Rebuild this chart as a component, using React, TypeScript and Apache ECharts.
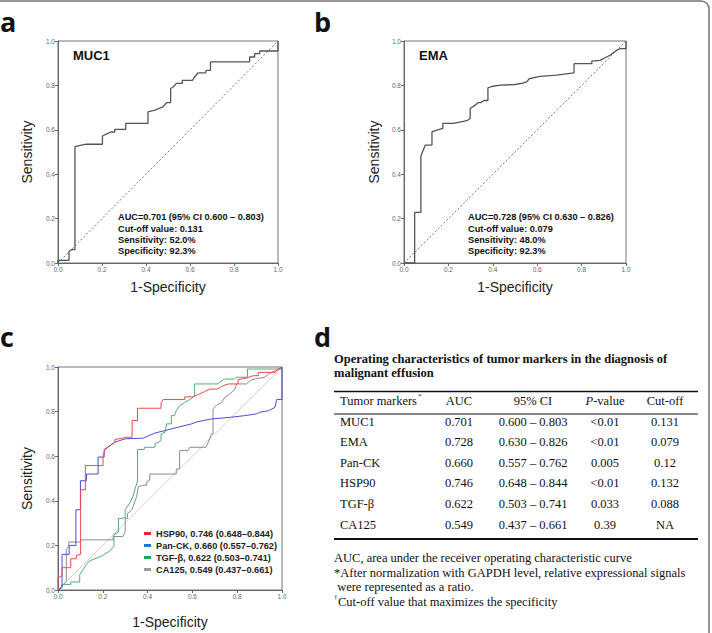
import React, { useEffect, useRef } from "react";
import * as echarts from "echarts";

// ROC curve points, [1 - specificity, sensitivity]
const muc1Roc: number[][] = [
  [0, 0], [0, 0.012], [0.05, 0.012], [0.05, 0.052], [0.061, 0.06], [0.077, 0.06], [0.077, 0.524],
  [0.106, 0.531], [0.13, 0.535], [0.202, 0.535], [0.202, 0.572], [0.227, 0.584], [0.24, 0.59],
  [0.258, 0.59], [0.258, 0.602], [0.308, 0.602], [0.308, 0.629], [0.409, 0.629], [0.409, 0.681],
  [0.44, 0.689], [0.477, 0.703], [0.493, 0.722], [0.512, 0.722], [0.512, 0.786], [0.525, 0.794],
  [0.538, 0.809], [0.565, 0.809], [0.565, 0.823], [0.611, 0.823], [0.621, 0.838], [0.636, 0.856],
  [0.67, 0.856], [0.674, 0.868], [0.693, 0.868], [0.693, 0.906], [0.871, 0.906], [0.871, 0.928],
  [0.894, 0.928], [0.894, 0.943], [0.917, 0.943], [0.917, 0.955], [1, 0.955], [1, 1],
];

const emaRoc: number[][] = [
  [0, 0], [0.048, 0], [0.048, 0.228], [0.076, 0.228], [0.076, 0.482], [0.096, 0.531], [0.126, 0.531],
  [0.126, 0.591], [0.148, 0.599], [0.175, 0.606], [0.175, 0.629], [0.223, 0.629], [0.283, 0.641],
  [0.298, 0.651], [0.298, 0.696], [0.321, 0.711], [0.333, 0.722], [0.345, 0.722], [0.36, 0.732],
  [0.378, 0.732], [0.378, 0.789], [0.395, 0.795], [0.433, 0.801], [0.5, 0.804], [0.535, 0.81],
  [0.553, 0.816], [0.565, 0.831], [0.613, 0.841], [0.688, 0.846], [0.766, 0.856], [0.766, 0.898],
  [0.846, 0.898], [0.846, 0.909], [0.883, 0.913], [0.928, 0.936], [0.958, 0.958], [0.973, 0.966],
  [1, 0.966], [1, 1],
];

const hsp90Roc: number[][] = [
  [0, 0], [0, 0.055], [0.018, 0.063], [0.018, 0.1], [0.057, 0.1], [0.057, 0.14], [0.082, 0.14],
  [0.082, 0.155], [0.101, 0.16], [0.101, 0.45], [0.122, 0.45], [0.122, 0.558], [0.201, 0.558],
  [0.201, 0.6], [0.21, 0.63], [0.254, 0.663], [0.254, 0.675], [0.31, 0.685], [0.331, 0.685],
  [0.331, 0.76], [0.355, 0.76], [0.355, 0.815], [0.46, 0.815], [0.46, 0.839], [0.47, 0.854],
  [0.566, 0.854], [0.566, 0.866], [0.6, 0.866], [0.633, 0.879], [0.655, 0.89], [0.678, 0.901],
  [0.712, 0.901], [0.73, 0.913], [0.76, 0.924], [0.804, 0.924], [0.804, 0.943], [0.84, 0.95],
  [0.872, 0.961], [0.894, 0.961], [0.894, 0.976], [0.969, 0.976], [0.982, 0.991], [1, 1],
];

const panCkRoc: number[][] = [
  [0, 0], [0.018, 0.01], [0.018, 0.16], [0.05, 0.16], [0.05, 0.2], [0.08, 0.2], [0.08, 0.36],
  [0.1, 0.36], [0.1, 0.49], [0.127, 0.49], [0.127, 0.52], [0.179, 0.52], [0.179, 0.596],
  [0.206, 0.596], [0.206, 0.63], [0.254, 0.663], [0.3, 0.678], [0.381, 0.681], [0.433, 0.704],
  [0.478, 0.715], [0.536, 0.73], [0.596, 0.745], [0.625, 0.755], [0.685, 0.767], [0.775, 0.775],
  [0.834, 0.782], [0.886, 0.79], [0.9, 0.797], [0.94, 0.804], [0.969, 0.819], [0.976, 0.854],
  [1, 0.854], [1, 1],
];

const tgfRoc: number[][] = [
  [0, 0], [0.018, 0.018], [0.018, 0.025], [0.057, 0.025], [0.057, 0.036], [0.097, 0.036],
  [0.097, 0.07], [0.112, 0.09], [0.127, 0.115], [0.14, 0.13], [0.194, 0.152], [0.231, 0.175],
  [0.25, 0.197], [0.25, 0.25], [0.27, 0.26], [0.27, 0.32], [0.3, 0.324], [0.3, 0.36], [0.32, 0.39],
  [0.335, 0.42], [0.343, 0.45], [0.355, 0.488], [0.355, 0.63], [0.385, 0.63], [0.385, 0.64],
  [0.433, 0.64], [0.433, 0.655], [0.46, 0.67], [0.46, 0.7], [0.478, 0.707], [0.485, 0.745],
  [0.506, 0.745], [0.506, 0.782], [0.52, 0.782], [0.528, 0.804], [0.543, 0.827], [0.565, 0.84],
  [0.59, 0.855], [0.61, 0.87], [0.61, 0.924], [0.715, 0.924], [0.72, 0.931], [0.743, 0.946],
  [0.788, 0.946], [0.795, 0.954], [0.846, 0.954], [0.846, 0.991], [1, 0.991], [1, 1],
];

const ca125Roc: number[][] = [
  [0, 0], [0.02, 0.02], [0.037, 0.04], [0.037, 0.18], [0.048, 0.197], [0.048, 0.215], [0.1, 0.215],
  [0.1, 0.225], [0.246, 0.225], [0.246, 0.24], [0.29, 0.24], [0.3, 0.26], [0.3, 0.32], [0.31, 0.32],
  [0.31, 0.343], [0.33, 0.36], [0.351, 0.418], [0.358, 0.463], [0.38, 0.47], [0.396, 0.47],
  [0.396, 0.485], [0.41, 0.493], [0.41, 0.52], [0.528, 0.52], [0.528, 0.543], [0.543, 0.543],
  [0.543, 0.625], [0.58, 0.625], [0.588, 0.64], [0.66, 0.64], [0.67, 0.66], [0.685, 0.7],
  [0.692, 0.7], [0.692, 0.812], [0.707, 0.827], [0.73, 0.842], [0.745, 0.864], [0.767, 0.879],
  [0.79, 0.901], [0.797, 0.924], [0.842, 0.924], [0.86, 0.94], [0.879, 0.946], [0.924, 0.954],
  [0.94, 0.969], [0.985, 0.99], [1, 1],
];

const chanceLine: number[][] = [[0, 0], [1, 1]];

// Annotation blocks for panels a and b
const muc1Notes = [
  "AUC=0.701 (95% CI 0.600 \u2013 0.803)",
  "Cut-off value: 0.131",
  "Sensitivity: 52.0%",
  "Specificity: 92.3%",
];
const emaNotes = [
  "AUC=0.728 (95% CI 0.630 \u2013 0.826)",
  "Cut-off value: 0.079",
  "Sensitivity: 48.0%",
  "Specificity: 92.3%",
];

// Legend names for panel c
const legendNames = [
  "HSP90, 0.746 (0.648\u20130.844)",
  "Pan-CK, 0.660 (0.557\u20130.762)",
  "TGF-\u03b2, 0.622 (0.503\u20130.741)",
  "CA125, 0.549 (0.437\u20130.661)",
];

// Table of operating characteristics
const tableTitle = [
  "Operating characteristics of tumor markers in the diagnosis of",
  "malignant effusion",
];
const markers = ["MUC1", "EMA", "Pan-CK", "HSP90", "TGF-\u03b2", "CA125"];
const aucValues = ["0.701", "0.728", "0.660", "0.746", "0.622", "0.549"];
const ciValues = [
  "0.600 \u2013 0.803",
  "0.630 \u2013 0.826",
  "0.557 \u2013 0.762",
  "0.648 \u2013 0.844",
  "0.503 \u2013 0.741",
  "0.437 \u2013 0.661",
];
const pValues = ["<0.01", "<0.01", "0.005", "<0.01", "0.033", "0.39"];
const cutoffValues = ["0.131", "0.079", "0.12", "0.132", "0.088", "NA"];
const footnotes = [
  "AUC, area under the receiver operating characteristic curve",
  "*After normalization with GAPDH level, relative expressional signals",
  " were represented as a ratio.",
];
const lastFootnote = "Cut-off value that maximizes the specificity";

const SANS = "Liberation Sans, Arial, sans-serif";
const SERIF = "Liberation Serif, Times New Roman, serif";
const TABLE_FONT = 12.5;

function txt(text: string, x: number, y: number, extra: any = {}) {
  const { align = "left", vAlign = "middle", ...rest } = extra;
  return {
    type: "text",
    x,
    y,
    silent: true,
    style: {
      text,
      fill: "#111",
      fontFamily: SERIF,
      fontSize: TABLE_FONT,
      align,
      textAlign: align,
      verticalAlign: vAlign,
      textVerticalAlign: vAlign,
      ...rest,
    },
  };
}

function hline(x1: number, x2: number, y: number, w: number) {
  return {
    type: "line",
    silent: true,
    shape: { x1, y1: y, x2, y2: y },
    style: { stroke: "#111", lineWidth: w },
  };
}

function xAxisFor(gi: number, gap: number) {
  return {
    type: "value",
    gridIndex: gi,
    min: 0,
    max: 1,
    interval: 0.2,
    name: "1-Specificity",
    nameLocation: "middle",
    nameGap: gap,
    nameTextStyle: { fontFamily: SANS, fontSize: 14, color: "#222" },
    axisLine: { show: true, onZero: false, lineStyle: { color: "#666", width: 1 } },
    axisTick: { show: true, length: 3, lineStyle: { color: "#666" } },
    axisLabel: { fontSize: 6.5, color: "#666", margin: 3, formatter: (v: number) => v.toFixed(1) },
    splitLine: { show: false },
  };
}

function yAxisFor(gi: number, gap: number) {
  return {
    type: "value",
    gridIndex: gi,
    min: 0,
    max: 1,
    interval: 0.2,
    name: "Sensitivity",
    nameLocation: "middle",
    nameGap: gap,
    nameTextStyle: { fontFamily: SANS, fontSize: 14, color: "#222" },
    axisLine: { show: true, onZero: false, lineStyle: { color: "#666", width: 1 } },
    axisTick: { show: true, length: 3, lineStyle: { color: "#666" } },
    axisLabel: { fontSize: 6.5, color: "#666", margin: 3, formatter: (v: number) => v.toFixed(1) },
    splitLine: { show: false },
  };
}

function rocSeries(name: string, data: number[][], gi: number, lineColor: string, iconColor: string, width: number) {
  return {
    type: "line",
    name,
    xAxisIndex: gi,
    yAxisIndex: gi,
    data,
    symbol: "none",
    silent: true,
    itemStyle: { color: iconColor },
    lineStyle: { color: lineColor, width },
    z: 3,
  };
}

function chanceSeries(name: string, gi: number, color: string, dashed: boolean) {
  return {
    type: "line",
    name,
    xAxisIndex: gi,
    yAxisIndex: gi,
    data: chanceLine,
    symbol: "none",
    silent: true,
    itemStyle: { color },
    lineStyle: { color, width: 0.8, type: dashed ? [2, 2] : "solid" },
    z: 2,
  };
}

export default function App() {
  const ref = useRef<HTMLDivElement>(null);

  useEffect(() => {
    document.body.style.margin = "0";
    if (!ref.current) return;
    const chart = echarts.init(ref.current, null, { renderer: "svg" });

    const graphics: any[] = [];

    // outer frame
    graphics.push({
      type: "rect",
      silent: true,
      shape: { x: -10, y: 1, width: 719, height: 700, r: 8 },
      style: { fill: "none", stroke: "#777", lineWidth: 1.5 },
    });

    // panel letters
    const letterStyle = { fontFamily: "Open Sans, Noto Sans, sans-serif", fontWeight: "bold", fontSize: 27, vAlign: "bottom" };
    graphics.push(txt("a", 0, 35, letterStyle));
    graphics.push(txt("b", 314, 35, letterStyle));
    graphics.push(txt("c", 0, 350, letterStyle));
    graphics.push(txt("d", 314, 350, letterStyle));

    // marker titles inside plots
    graphics.push(txt("MUC1", 73, 55, { fontFamily: SANS, fontWeight: "bold", fontSize: 13 }));
    graphics.push(txt("EMA", 419, 55, { fontFamily: SANS, fontWeight: "bold", fontSize: 13 }));

    const noteYs = [217, 228.5, 240, 251];
    muc1Notes.forEach((t, i) =>
      graphics.push(txt(t, 118, noteYs[i], { fontFamily: SANS, fontWeight: "bold", fontSize: 9.2 }))
    );
    emaNotes.forEach((t, i) =>
      graphics.push(txt(t, 468, noteYs[i], { fontFamily: SANS, fontWeight: "bold", fontSize: 9.2 }))
    );

    // table d
    tableTitle.forEach((t, i) =>
      graphics.push(txt(t, 334, 359 + i * 14, { fontWeight: "bold" }))
    );
    graphics.push(hline(334, 698, 391.5, 1.6));
    graphics.push(hline(334, 698, 414, 1));
    graphics.push(hline(334, 698, 539, 2));

    const colX = { name: 340, auc: 459, ci: 533, p: 605, cut: 665 };
    const headerY = 401;
    graphics.push(txt("Tumor markers", colX.name, headerY));
    graphics.push(txt("*", 418, headerY - 5, { fontSize: 7 }));
    graphics.push(txt("AUC", colX.auc, headerY, { align: "center" }));
    graphics.push(txt("95% CI", colX.ci, headerY, { align: "center" }));
    graphics.push(
      txt("{i|P}-value", colX.p, headerY, {
        align: "center",
        rich: { i: { fontStyle: "italic", fontFamily: SERIF, fontSize: TABLE_FONT, fill: "#111" } },
      })
    );
    graphics.push(txt("Cut-off", colX.cut, headerY, { align: "center" }));

    const rowY0 = 421.5;
    const rowStep = 20.6;
    markers.forEach((m, i) => {
      const y = rowY0 + i * rowStep;
      graphics.push(txt(m, colX.name, y));
      graphics.push(txt(aucValues[i], colX.auc, y, { align: "center" }));
      graphics.push(txt(ciValues[i], colX.ci, y, { align: "center" }));
      graphics.push(txt(pValues[i], colX.p, y, { align: "center" }));
      graphics.push(txt(cutoffValues[i], colX.cut, y, { align: "center" }));
    });

    const footYs = [558, 572.5, 587];
    footnotes.forEach((t, i) => graphics.push(txt(t, 334, footYs[i])));
    graphics.push(txt("\u2020", 334, 597, { fontSize: 7 }));
    graphics.push(txt(lastFootnote, 338, 601.5));

    const option: any = {
      animation: false,
      backgroundColor: "#fff",
      grid: [
        { left: 58, top: 41, width: 220, height: 222, show: true, borderColor: "#777", borderWidth: 1 },
        { left: 404, top: 41, width: 222, height: 222, show: true, borderColor: "#777", borderWidth: 1 },
        { left: 58, top: 367, width: 224, height: 223, show: true, borderColor: "#777", borderWidth: 1 },
      ],
      xAxis: [xAxisFor(0, 17), xAxisFor(1, 17), xAxisFor(2, 25)],
      yAxis: [yAxisFor(0, 24), yAxisFor(1, 23), yAxisFor(2, 24)],
      legend: {
        data: legendNames,
        orient: "vertical",
        left: 139,
        top: 524,
        itemWidth: 7,
        itemHeight: 3,
        itemGap: 3,
        icon: "rect",
        selectedMode: false,
        textStyle: { fontFamily: SANS, fontWeight: "bold", fontSize: 9.2, color: "#222" },
      },
      series: [
        chanceSeries("chance-a", 0, "#555", true),
        rocSeries("MUC1", muc1Roc, 0, "#555", "#555", 1.3),
        chanceSeries("chance-b", 1, "#555", true),
        rocSeries("EMA", emaRoc, 1, "#555", "#555", 1.3),
        chanceSeries("chance-c", 2, "#c4c4c4", false),
        rocSeries(legendNames[3], ca125Roc, 2, "#8c8c8c", "#9a9a9a", 1),
        rocSeries(legendNames[2], tgfRoc, 2, "#52ad7c", "#1ca457", 1),
        rocSeries(legendNames[1], panCkRoc, 2, "#4b4bd8", "#1f78c8", 1),
        rocSeries(legendNames[0], hsp90Roc, 2, "#f04848", "#e8262b", 1),
      ],
      graphic: graphics,
    };

    chart.setOption(option);
    return () => chart.dispose();
  }, []);

  return <div ref={ref} style={{ width: 712, height: 633 }} />;
}
